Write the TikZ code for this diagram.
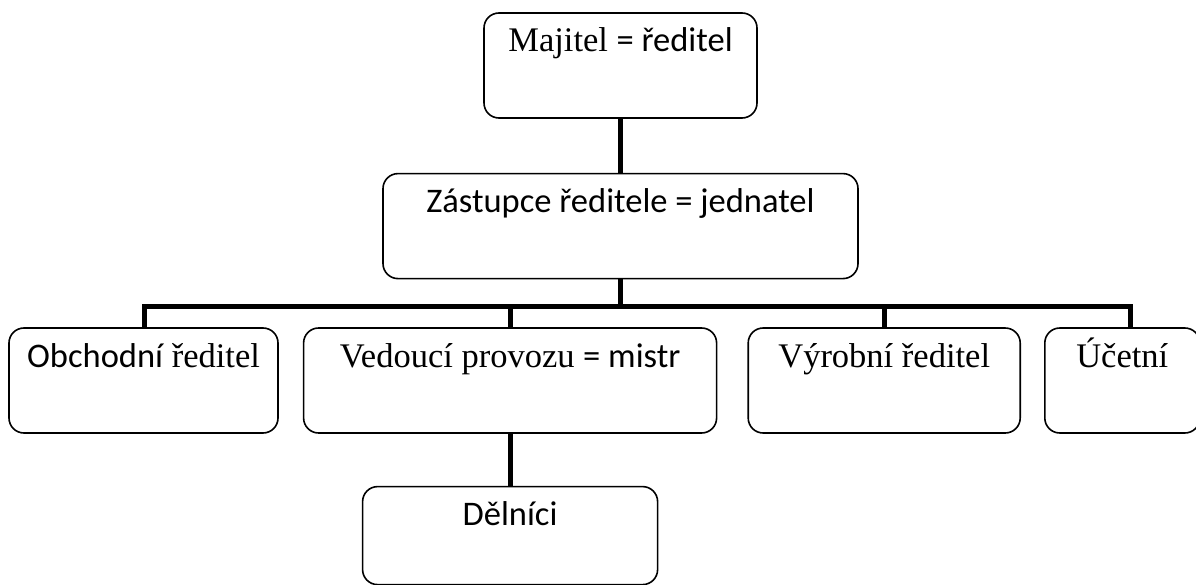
\documentclass[tikz,border=0pt]{standalone}
\usepackage{fontspec}
\setmainfont{Liberation Serif}
\newfontfamily\calibri{Carlito}
\usetikzlibrary{positioning}
\tikzset{
    orgbox/.style={draw, rounded corners=15pt, line width=1.6pt, align=center, inner xsep=0pt, inner ysep=0pt,
        text height=39pt, text depth=66pt, font=\fontsize{34.5pt}{40pt}\selectfont},
    orgline/.style={line width=5pt, line join=miter}
}

\begin{document}
\begin{tikzpicture}[x=1pt, y=-1pt]
    \useasboundingbox[fill=white] (0,0) rectangle (1196,585);

    \node[orgbox, minimum width=273pt] (majitel) at (620.5,65.5) {Majitel {\calibri = ředitel}};
    \node[orgbox, minimum width=475pt, below=54pt of majitel] (zastupce) {\calibri Zástupce ředitele = jednatel};

    \node[orgbox, minimum width=269pt] (obchodni) at (143.5,380.5) {{\calibri Obchodní} ředitel};
    \node[orgbox, minimum width=413pt, right=24pt of obchodni] (vedouci) {Vedoucí provozu {\calibri = mistr}};
    \node[orgbox, minimum width=272pt, right=30pt of vedouci] (vyrobni) {Výrobní ředitel};
    \node[orgbox, minimum width=155pt, right=23pt of vyrobni] (ucetni) {Účetní};
    \node[orgbox, minimum width=295pt, text depth=59pt, below=52pt of vedouci] (delnici) {\calibri Dělníci};

    % connectors
    \draw[orgline] (majitel) -- (zastupce);
    \draw[orgline] (zastupce.south) -- ++(0,27) coordinate (hub);
    \draw[orgline] ([xshift=1pt]obchodni.north) |- (hub) -| ([xshift=8pt]ucetni.north);
    \draw[orgline] (vedouci.north) -- (vedouci.north |- hub);
    \draw[orgline] (vyrobni.north) -- (vyrobni.north |- hub);
    \draw[orgline] (vedouci) -- (delnici);
\end{tikzpicture}
\end{document}
